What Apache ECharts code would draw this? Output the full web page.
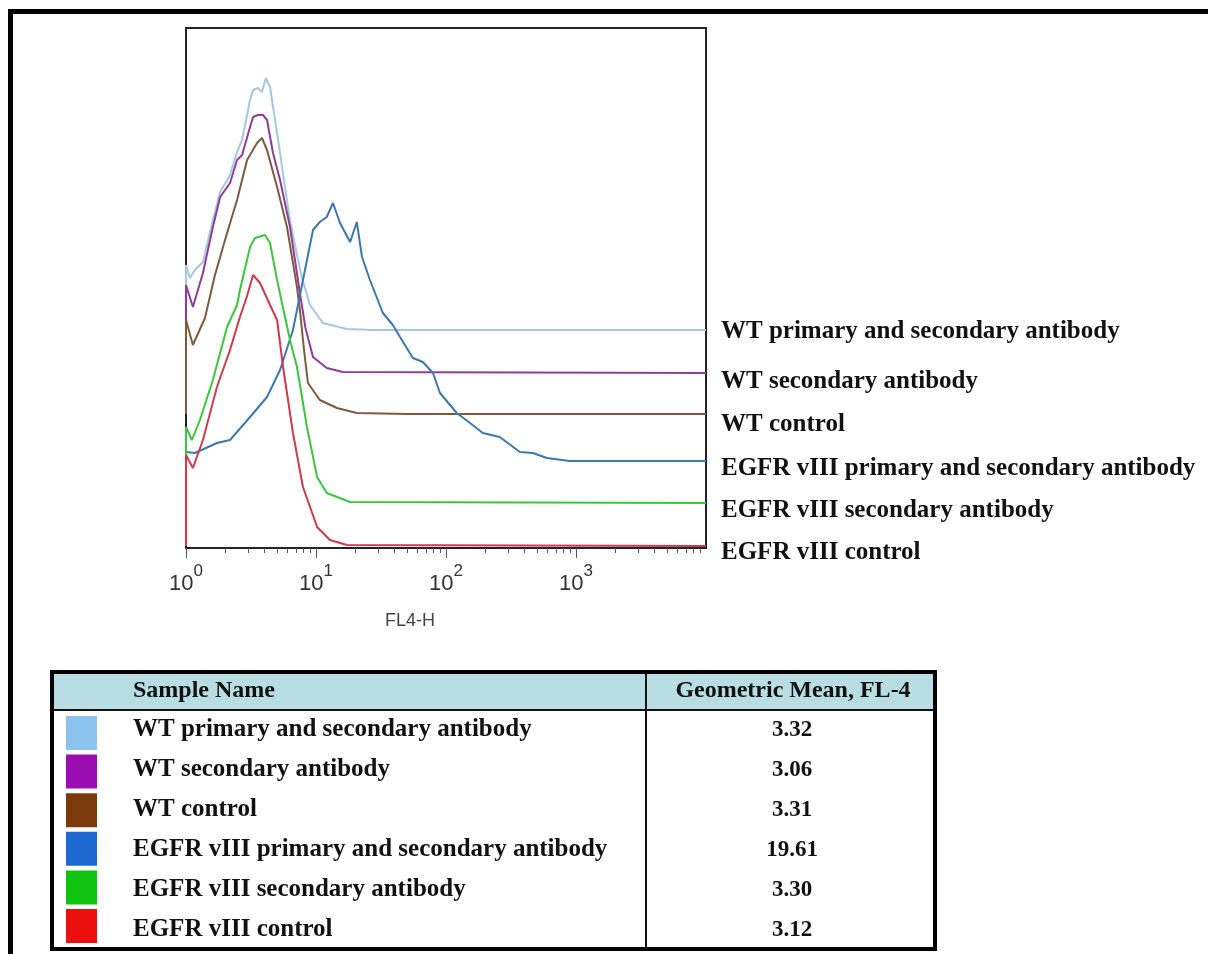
<!DOCTYPE html>
<html><head><meta charset="utf-8">
<script src="https://cdn.jsdelivr.net/npm/echarts@6/dist/echarts.min.js"></script>
<style>html,body{margin:0;padding:0;background:#fff;}#c{width:1208px;height:954px;}</style>
</head><body><div id="c"></div>
<script>
// ---------- data ----------
const sampleNames = [
  'WT primary and secondary antibody',
  'WT secondary antibody',
  'WT control',
  'EGFR vIII primary and secondary antibody',
  'EGFR vIII secondary antibody',
  'EGFR vIII control'
];
const geoMeans = ['3.32', '3.06', '3.31', '19.61', '3.30', '3.12'];
const tableHeaders = ['Sample Name', 'Geometric Mean, FL-4'];
const xAxisTitle = 'FL4-H';
const decadeTicks = [1, 10, 100, 1000, 10000];
// vertical offset of each overlaid histogram (count units)
const histOffsets = [218, 175, 134, 87, 45, 2];

// [FL4-H, count]
const wtPrimSec = [[1,0],[1,65],[1.07,52],[1.17,60],[1.35,68],[1.61,110],[1.83,138],[2.18,155],[2.47,178],[2.70,190],[3.11,230],[3.28,240],[3.58,242],[3.84,238],[4.12,252],[4.43,243],[4.84,210],[5.29,177],[5.77,143],[6.31,110],[7.14,75],[7.81,52],[8.99,25],[11.3,7],[17.3,1],[27.3,0],[10000,0]];
const wtSec = [[1,0],[1,88],[1.13,66],[1.35,100],[1.61,146],[1.83,176],[2.18,190],[2.47,213],[2.70,218],[3.11,246],[3.28,256],[3.58,258],[3.91,258],[4.20,253],[4.67,220],[5.29,193],[6.31,146],[7.52,80],[8.3,45],[9.48,16],[12.1,5],[16.1,1],[10000,0]];
const wtCtrl = [[1,0],[1,94],[1.13,69],[1.40,96],[1.67,139],[2.07,181],[2.47,214],[2.95,254],[3.52,271],[3.84,276],[4.20,264],[5.02,227],[5.98,187],[7.14,127],[7.52,104],[8.09,64],[8.67,31],[10.7,14],[14.5,6],[20.6,1],[50.1,0],[10000,0]];
const egfrPrimSec = [[1,0],[1,9],[1.17,8],[1.73,18],[2.18,21],[3.11,44],[4.20,64],[5.29,91],[6.65,131],[7.94,181],[9.48,231],[10.7,239],[12.1,244],[13.5,258],[15.3,238],[18.3,219],[20.6,239],[22.6,204],[26.0,181],[32.7,148],[39.0,136],[44.3,124],[55.6,103],[66.4,99],[79.4,88],[89.9,68],[121,48],[153,38],[192,28],[259,24],[370,9],[466,8],[597,3],[891,0],[10000,0]];
const egfrSec = [[1,0],[1,76],[1.11,63],[1.28,83],[1.61,123],[2.07,176],[2.47,198],[2.60,213],[3.11,256],[3.39,265],[4.05,268],[4.43,260],[5.02,223],[5.58,195],[6.31,163],[7.14,136],[8.52,76],[10.2,26],[12.1,10],[18.3,1],[10000,0]];
const egfrCtrl = [[1,0],[1,91],[1.13,78],[1.35,106],[1.73,159],[2.18,196],[2.60,229],[2.95,250],[3.28,271],[3.71,263],[4.43,241],[5.02,226],[5.58,179],[6.65,113],[7.94,59],[10.2,19],[12.8,6],[17.3,1],[10000,0]];
const histograms = [wtPrimSec, wtSec, wtCtrl, egfrPrimSec, egfrSec, egfrCtrl];

// ---------- styles ----------
const lineColors = ['#a6c8de', '#8e3e96', '#7e5a3e', '#3d78ad', '#3ec43e', '#cc3a4c'];
const swatchColors = ['#8cc4ef', '#9a0db0', '#7b3a0b', '#1e6ad2', '#12c412', '#ec1010'];
const endLabelDy = [2, 9, 11, 8, 8, 7];
const serif = '"Liberation Serif", "Times New Roman", serif';

const minorTickVals = [];
for (let d = 0; d < 4; d++) for (let k = 2; k <= 9; k++) minorTickVals.push(Math.log10(k) + d);

const series = histograms.map((h, i) => ({
  name: sampleNames[i],
  type: 'line',
  xAxisIndex: 0,
  data: h.map(p => [p[0], p[1] + histOffsets[i]]),
  showSymbol: false,
  symbol: 'none',
  lineStyle: { color: lineColors[i], width: 2 },
  itemStyle: { color: lineColors[i] },
  z: 2 + i,
  endLabel: {
    show: true,
    formatter: sampleNames[i],
    distance: 15,
    offset: [0, endLabelDy[i]],
    color: '#111',
    fontFamily: serif,
    fontWeight: 'bold',
    fontSize: 25
  }
}));

const G = [];
// outer frame (top & left)
G.push({ type: 'rect', shape: { x: 8, y: 9, width: 1200, height: 5 }, style: { fill: '#000' } });
G.push({ type: 'rect', shape: { x: 8, y: 9, width: 5, height: 945 }, style: { fill: '#000' } });
// table
const tL = 52, tT = 672, tR = 935, tB = 949, hdrB = 710, colX = 646;
G.push({ type: 'rect', shape: { x: tL, y: tT, width: tR - tL, height: hdrB - tT }, style: { fill: '#b8dde2' } });
G.push({ type: 'line', shape: { x1: tL, y1: hdrB, x2: tR, y2: hdrB }, style: { stroke: '#111', lineWidth: 2 } });
G.push({ type: 'line', shape: { x1: colX, y1: tT, x2: colX, y2: tB }, style: { stroke: '#111', lineWidth: 2 } });
G.push({ type: 'rect', shape: { x: tL, y: tT, width: tR - tL, height: tB - tT }, style: { fill: 'none', stroke: '#000', lineWidth: 4 } });
G.push({ type: 'text', x: 133, y: 691, style: { text: tableHeaders[0], fill: '#111', font: 'bold 24px ' + serif, textAlign: 'left', textVerticalAlign: 'middle' } });
G.push({ type: 'text', x: 793, y: 691, style: { text: tableHeaders[1], fill: '#111', font: 'bold 24px ' + serif, textAlign: 'center', textVerticalAlign: 'middle' } });
sampleNames.forEach((n, i) => {
  G.push({ type: 'rect', shape: { x: 66, y: 716 + i * 38.6, width: 31, height: 34 }, style: { fill: swatchColors[i] } });
  G.push({ type: 'text', x: 133, y: 730 + i * 40, style: { text: n, fill: '#111', font: 'bold 25px ' + serif, textAlign: 'left', textVerticalAlign: 'middle' } });
  G.push({ type: 'text', x: 792, y: 730 + i * 40, style: { text: geoMeans[i], fill: '#111', font: 'bold 23px ' + serif, textAlign: 'center', textVerticalAlign: 'middle' } });
});

const option = {
  animation: false,
  backgroundColor: '#fff',
  grid: { left: 186, right: 502, top: 28, bottom: 406, show: true, borderColor: '#222', borderWidth: 2, backgroundColor: 'transparent' },
  xAxis: [{
    type: 'log', logBase: 10, min: 1, max: 10000, position: 'bottom',
    axisLine: { show: true, lineStyle: { color: '#222', width: 2 } },
    axisTick: { show: true, length: 10, lineStyle: { color: '#555', width: 1 } },
    splitLine: { show: false },
    axisLabel: {
      margin: 15,
      showMaxLabel: false,
      formatter: v => { const e = Math.round(Math.log10(v)); return e >= 4 ? '' : '{b|10}{s|' + e + '}'; },
      rich: {
        b: { fontFamily: '"Liberation Sans", Arial, sans-serif', fontSize: 22, color: '#333', lineHeight: 32, verticalAlign: 'bottom' },
        s: { fontFamily: '"Liberation Sans", Arial, sans-serif', fontSize: 17, color: '#333', lineHeight: 32, verticalAlign: 'top' }
      }
    },
    name: xAxisTitle, nameLocation: 'middle', nameGap: 64,
    nameTextStyle: { fontFamily: '"Liberation Sans", Arial, sans-serif', fontSize: 18, color: '#444', padding: [0, 72, 0, 0] }
  }, {
    type: 'value', min: 0, max: 4, position: 'bottom',
    axisLine: { show: false }, splitLine: { show: false },
    axisLabel: { show: false },
    axisTick: { show: true, length: 5, customValues: minorTickVals, lineStyle: { color: '#555', width: 1 } }
  }],
  yAxis: { type: 'value', min: 0, max: 520, show: false },
  series: series,
  graphic: G
};
const chart = echarts.init(document.getElementById('c'), null, { renderer: 'canvas' });
chart.setOption(option);
</script>
</body></html>
